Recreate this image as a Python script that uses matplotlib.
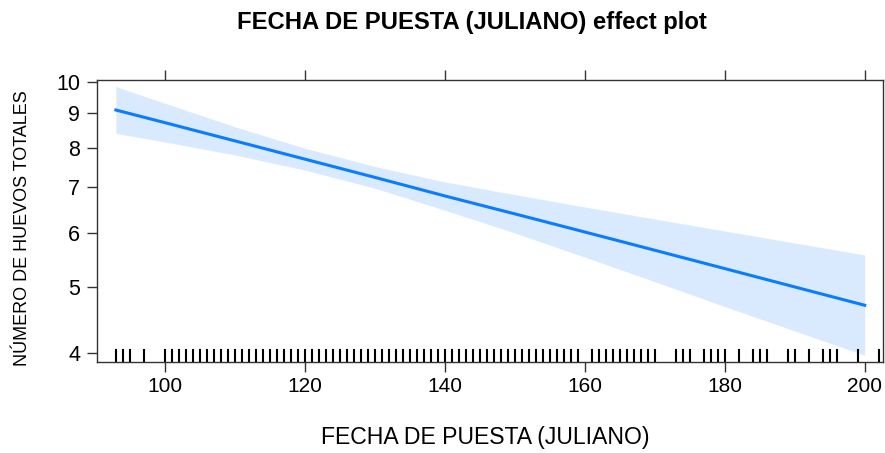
import matplotlib
matplotlib.use("Agg")
import matplotlib.pyplot as plt
import matplotlib.transforms as mtransforms

plt.rcParams['font.family'] = ['Liberation Sans', 'DejaVu Sans']

# fitted effect, log-scaled response
fecha = [93, 100, 110, 120, 130, 140, 150, 160, 170, 180, 190, 200]
ajuste = [9.09, 8.71, 8.19, 7.70, 7.24, 6.80, 6.40, 6.02, 5.66, 5.32, 5.00, 4.70]
superior = [9.84, 9.30, 8.59, 7.99, 7.51, 7.13, 6.83, 6.55, 6.29, 6.04, 5.80, 5.57]
inferior = [8.40, 8.16, 7.81, 7.42, 6.98, 6.48, 6.00, 5.53, 5.09, 4.68, 4.31, 3.97]

# observed laying dates for the rug
rug_dias = [93, 94, 95, 97,
            100, 101, 102, 103, 104, 105, 106, 107, 108, 109,
            110, 111, 112, 113, 114, 115, 116, 117, 118, 119,
            120, 121, 122, 123, 124, 125, 126, 127, 128, 129,
            130, 131, 132, 133, 134, 135, 136, 137, 138, 139,
            140, 141, 142, 143, 144, 145, 146, 147, 148, 149,
            150, 151, 152, 153, 154, 155, 156, 157, 158, 159,
            161, 162, 163, 164, 165, 166, 167, 168, 169, 170,
            173, 174, 175, 177, 178, 179, 180, 182, 184, 185, 186,
            189, 190, 192, 194, 195, 196, 199, 202]

x_ticks = [100, 120, 140, 160, 180, 200]
y_ticks = [4, 5, 6, 7, 8, 9, 10]

fig = plt.figure(figsize=(8.85, 4.53), dpi=100)
ax = fig.add_axes([0.1096, 0.2009, 0.888, 0.6225])

ax.fill_between(fecha, inferior, superior, color='#d9eaff', lw=0)
ax.plot(fecha, ajuste, color='#0a7cff', lw=2.2)

trans = mtransforms.blended_transform_factory(ax.transData, ax.transAxes)
for d in rug_dias:
    ax.plot([d, d], [0, 0.043], color='black', lw=1.5, transform=trans)

ax.set_yscale('log')
ax.set_xlim(90.3, 202.6)
ax.set_ylim(3.88, 10.06)
ax.set_xticks(x_ticks)
ax.set_yticks(y_ticks)
ax.set_yticklabels([str(v) for v in y_ticks])
ax.yaxis.set_minor_locator(matplotlib.ticker.NullLocator())
ax.tick_params(axis='x', top=True, bottom=True, direction='out', length=7,
               width=1, labelsize=15, color='#333333', pad=4)
ax.tick_params(axis='y', left=True, right=False, direction='out', length=7,
               width=1, labelsize=15.5, color='#333333', pad=5)
for s in ax.spines.values():
    s.set_color('#333333')
    s.set_linewidth(1)

fig.text(0.533, 0.951, "FECHA DE PUESTA (JULIANO) effect plot",
         ha='center', va='center', fontsize=17.2, fontweight='bold')
fig.text(0.548, 0.035, "FECHA DE PUESTA (JULIANO)", ha='center',
         va='center', fontsize=16.6)
fig.text(0.025, 0.497, "NÚMERO DE HUEVOS TOTALES", ha='center',
         va='center', rotation=90, fontsize=13)

fig.savefig("out.png", dpi=100)
